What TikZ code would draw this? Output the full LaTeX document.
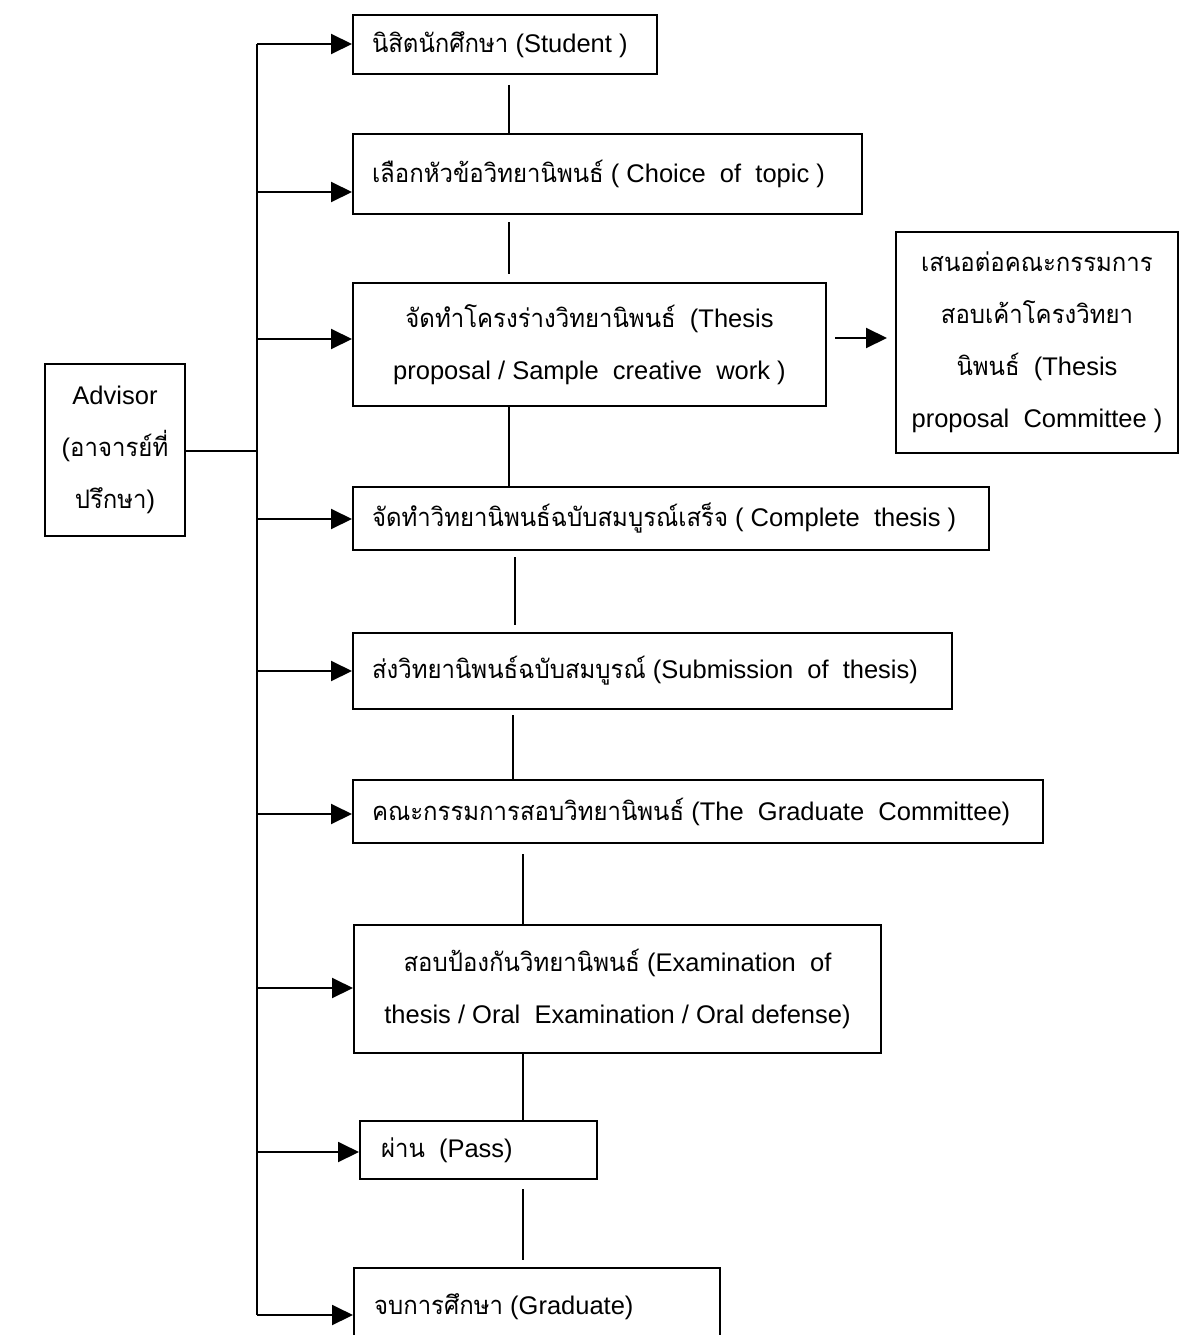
\documentclass[tikz,border=0pt]{standalone}
\usepackage{fontspec}
\setmainfont{Liberation Sans}
\newfontfamily\thf[Script=Thai,FakeStretch=0.94]{Loma}
\usetikzlibrary{arrows.meta}
\begin{document}
\begin{tikzpicture}[x=1pt,y=-1pt,
  box/.style={draw, line width=2pt, inner xsep=19pt, inner ysep=0pt, anchor=north west,
              font=\fontsize{25.5pt}{52pt}\selectfont},
  lbox/.style={box, align=flush left},
  cbox/.style={box, align=center, inner xsep=6pt},
  conn/.style={line width=2pt},
  arr/.style={line width=2pt, -{Triangle[length=21pt,width=20pt]}}]
\useasboundingbox (0,0) rectangle (1179,1335);
\fill[white] (0,0) rectangle (1179,1335);
\clip (0,0) rectangle (1179,1335);

% boxes
\node[cbox, minimum width=140pt, minimum height=172pt] (advisor) at (44,363)
  {Advisor\\({\thf อาจารย์ที่}\\{\thf ปรึกษา})};
\node[lbox, minimum width=304pt, minimum height=59pt, text width=266pt] (student) at (352,14)
  {{\thf นิสิตนักศึกษา} (Student )};
\node[lbox, minimum width=509pt, minimum height=80pt, text width=471pt] (choice) at (352,133)
  {{\thf เลือกหัวข้อวิทยานิพนธ์} ( Choice~~of~~topic )};
\node[cbox, minimum width=473pt, minimum height=123pt] (proposal) at (352,282)
  {{\thf จัดทำโครงร่างวิทยานิพนธ์}~~(Thesis\\proposal / Sample~~creative~~work )};
\node[cbox, minimum width=282pt, minimum height=221pt] (committee) at (895,231)
  {{\thf เสนอต่อคณะกรรมการ}\\{\thf สอบเค้าโครงวิทยา}\\{\thf นิพนธ์}~~(Thesis\\proposal~~Committee )};
\node[lbox, minimum width=636pt, minimum height=63pt, text width=598pt] (complete) at (352,486)
  {{\thf จัดทำวิทยานิพนธ์ฉบับสมบูรณ์เสร็จ} ( Complete~~thesis )};
\node[lbox, minimum width=599pt, minimum height=76pt, text width=561pt] (submission) at (352,632)
  {{\thf ส่งวิทยานิพนธ์ฉบับสมบูรณ์} (Submission~~of~~thesis)};
\node[lbox, minimum width=690pt, minimum height=63pt, text width=652pt] (gc) at (352,779)
  {{\thf คณะกรรมการสอบวิทยานิพนธ์} (The~~Graduate~~Committee)};
\node[cbox, minimum width=527pt, minimum height=128pt] (exam) at (353,924)
  {{\thf สอบป้องกันวิทยานิพนธ์} (Examination~~of\\thesis / Oral~~Examination / Oral defense)};
\node[lbox, minimum width=237pt, minimum height=58pt, text width=195pt, inner xsep=21pt] (pass) at (359,1120)
  {{\thf ผ่าน}~~(Pass)};
\node[lbox, minimum width=366pt, minimum height=78pt, text width=326pt, inner xsep=20pt] (graduate) at (353,1267)
  {{\thf จบการศึกษา} (Graduate)};

% bus and branches
\coordinate (a1) at (257,44);
\coordinate (a2) at (257,192);
\coordinate (a3) at (257,339);
\coordinate (a4) at (257,519);
\coordinate (a5) at (257,671);
\coordinate (a6) at (257,814);
\coordinate (a7) at (257,988);
\coordinate (a8) at (257,1152);
\coordinate (a9) at (257,1315);
\coordinate (adv) at (257,451);
\coordinate (pa) at (0,338);

\draw[conn] (a1) -- (a9);
\draw[conn] (adv -| advisor.east) -- (adv);
\draw[arr] (a1) -- (a1 -| student.west);
\draw[arr] (a2) -- (a2 -| choice.west);
\draw[arr] (a3) -- (a3 -| proposal.west);
\draw[arr] (a4) -- (a4 -| complete.west);
\draw[arr] (a5) -- (a5 -| submission.west);
\draw[arr] (a6) -- (a6 -| gc.west);
\draw[arr] (a7) -- (a7 -| exam.west);
\draw[arr] (a8) -- (a8 -| pass.west);
\draw[arr] (a9) -- (a9 -| graduate.west);
\draw[arr, shorten <=8pt, shorten >=8pt] (pa -| proposal.east) -- (pa -| committee.west);

% vertical connectors
\draw[conn] ([xshift=157pt,yshift=-10pt]student.south west) -- ([xshift=157pt]choice.north west);
\draw[conn] ([xshift=157pt,yshift=-7pt]choice.south west) -- ([xshift=157pt,yshift=8pt]proposal.north west);
\draw[conn] ([xshift=157pt]proposal.south west) -- ([xshift=157pt]complete.north west);
\draw[conn] ([xshift=163pt,yshift=-6pt]complete.south west) -- ([xshift=163pt,yshift=7pt]submission.north west);
\draw[conn] ([xshift=161pt,yshift=-5pt]submission.south west) -- ([xshift=161pt]gc.north west);
\draw[conn] ([xshift=171pt,yshift=-10pt]gc.south west) -- ([xshift=170pt]exam.north west);
\draw[conn] ([xshift=170pt]exam.south west) -- ([xshift=164pt]pass.north west);
\draw[conn] ([xshift=164pt,yshift=-9pt]pass.south west) -- ([xshift=170pt,yshift=7pt]graduate.north west);
\end{tikzpicture}
\end{document}
